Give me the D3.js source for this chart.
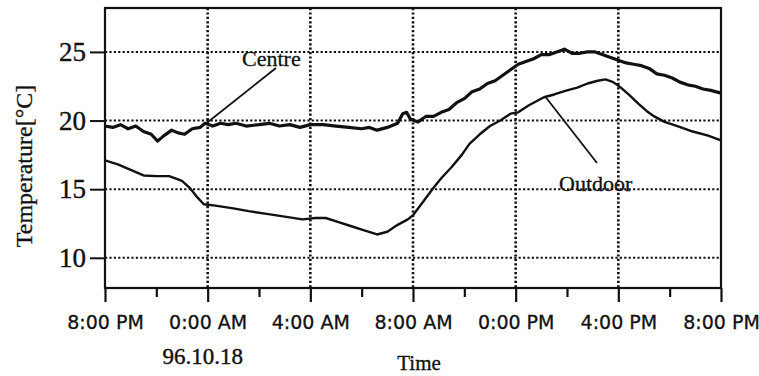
<!DOCTYPE html>
<html>
<head>
<meta charset="utf-8">
<script src="https://cdn.jsdelivr.net/npm/d3@7"></script>
<style>
  body { margin: 0; background: #fff; }
  svg { display: block; }
</style>
</head>
<body>
<svg id="chart"></svg>
<script>
// hours after 8:00 PM (96.10.17) and temperature readings
const centreHours = [0, 0.3, 0.6, 0.9, 1.2, 1.5, 1.8, 2.05, 2.3, 2.6, 2.85, 3.1, 3.4, 3.7, 3.9, 4.2, 4.5, 4.8, 5.1, 5.5, 6.0, 6.4, 6.8, 7.2, 7.6, 8.0, 8.5, 9.0, 9.5, 10.0, 10.3, 10.6, 11.0, 11.4, 11.6, 11.75, 11.9, 12.2, 12.5, 12.8, 13.1, 13.4, 13.7, 14.0, 14.3, 14.6, 14.9, 15.2, 15.5, 15.8, 16.1, 16.4, 16.7, 17.0, 17.3, 17.6, 17.9, 18.2, 18.5, 18.8, 19.1, 19.4, 19.7, 20.0, 20.3, 20.6, 20.9, 21.2, 21.5, 21.8, 22.1, 22.4, 22.7, 23.0, 23.3, 23.6, 24.0];
const centreTemps = [19.6, 19.5, 19.7, 19.4, 19.6, 19.2, 19.0, 18.5, 18.9, 19.3, 19.1, 19.0, 19.4, 19.5, 19.8, 19.6, 19.8, 19.7, 19.8, 19.6, 19.7, 19.8, 19.6, 19.7, 19.5, 19.7, 19.7, 19.6, 19.5, 19.4, 19.5, 19.3, 19.5, 19.8, 20.5, 20.6, 20.1, 19.9, 20.3, 20.3, 20.6, 20.8, 21.3, 21.6, 22.1, 22.3, 22.7, 22.9, 23.3, 23.7, 24.1, 24.3, 24.5, 24.8, 24.8, 25.0, 25.2, 24.9, 24.9, 25.0, 25.0, 24.8, 24.6, 24.4, 24.2, 24.1, 24.0, 23.8, 23.4, 23.3, 23.1, 22.8, 22.6, 22.5, 22.3, 22.2, 22.0];

const outdoorHours = [0, 0.5, 1.0, 1.5, 2.0, 2.5, 3.0, 3.3, 3.6, 3.85, 4.3, 5.0, 5.6, 6.3, 7.0, 7.7, 8.2, 8.6, 9.1, 9.6, 10.1, 10.6, 11.0, 11.4, 11.8, 12.0, 12.4, 12.8, 13.1, 13.5, 13.9, 14.2, 14.6, 15.0, 15.4, 15.8, 16.1, 16.5, 17.1, 17.5, 18.0, 18.4, 18.8, 19.2, 19.5, 19.8, 20.1, 20.4, 20.8, 21.1, 21.4, 21.8, 22.3, 22.9, 23.5, 24.0];
const outdoorTemps = [17.1, 16.8, 16.4, 16.0, 15.95, 15.95, 15.6, 15.1, 14.4, 13.9, 13.8, 13.6, 13.4, 13.2, 13.0, 12.8, 12.9, 12.9, 12.6, 12.3, 12.0, 11.7, 11.9, 12.4, 12.8, 13.1, 14.1, 15.1, 15.8, 16.6, 17.5, 18.3, 19.0, 19.6, 20.0, 20.5, 20.6, 21.1, 21.7, 21.9, 22.2, 22.4, 22.7, 22.9, 23.0, 22.8, 22.4, 21.9, 21.2, 20.7, 20.3, 19.9, 19.6, 19.2, 18.9, 18.55];

const yTicks = [10, 15, 20, 25];
const xMajorTicks = [0, 4, 8, 12, 16, 20, 24];
const xMinorTicks = [2, 6, 10, 14, 18, 22];
const xTickLabels = ["8:00 PM", "0:00 AM", "4:00 AM", "8:00 AM", "0:00 PM", "4:00 PM", "8:00 PM"];
const dateLabel = "96.10.18";

// label anchors on the curves: [hour, temp]
const centreAnchor = [3.95, 19.8];
const outdoorAnchor = [17.15, 21.75];

const width = 759, height = 376;
const x = d3.scaleLinear().domain([0, 24]).range([105, 721]);
const y = d3.scaleLinear().domain([7.8, 28.2]).range([288, 8]);

const svg = d3.select("#chart").attr("width", width).attr("height", height);
svg.append("rect").attr("width", width).attr("height", height).attr("fill", "#fff");

const serif = "'Liberation Serif', 'Times New Roman', serif";
const sans = "'DejaVu Sans', sans-serif";
const ink = "#111";

// grid
const grid = svg.append("g").attr("stroke", ink).attr("stroke-width", 2).attr("stroke-dasharray", "2.2,2.2");
grid.selectAll("line.h").data(yTicks).join("line")
  .attr("x1", x(0)).attr("x2", x(24))
  .attr("y1", d => y(d)).attr("y2", d => y(d));
grid.selectAll("line.v").data(xMajorTicks.slice(1, -1)).join("line")
  .attr("x1", d => x(d)).attr("x2", d => x(d))
  .attr("y1", y(28.2)).attr("y2", y(7.8))
  .attr("stroke-width", 2.6);

// frame
svg.append("rect")
  .attr("x", x(0)).attr("y", y(28.2))
  .attr("width", x(24) - x(0)).attr("height", y(7.8) - y(28.2))
  .attr("fill", "none").attr("stroke", ink).attr("stroke-width", 2.2);

// y axis
const yAxis = svg.append("g").attr("transform", `translate(${x(0)},0)`)
  .call(d3.axisLeft(y).tickValues(yTicks).tickSize(15).tickPadding(4).tickFormat(d3.format("d")));
yAxis.select(".domain").remove();
yAxis.selectAll("line").attr("stroke", ink).attr("stroke-width", 2);
yAxis.selectAll("text").attr("font-family", serif).attr("font-size", 27).attr("fill", ink)
  .attr("stroke", ink).attr("stroke-width", 0.4);

// x axis
const xAxis = svg.append("g").attr("transform", `translate(0,${y(7.8)})`)
  .call(d3.axisBottom(x).tickValues(xMajorTicks).tickSize(14).tickPadding(14)
    .tickFormat((d, i) => xTickLabels[i]));
xAxis.select(".domain").remove();
xAxis.selectAll("line").attr("stroke", ink).attr("stroke-width", 2.2);
xAxis.selectAll("text").attr("font-family", sans).attr("font-size", 19).attr("fill", ink)
  .attr("stroke", ink).attr("stroke-width", 0.3);

const xMinor = svg.append("g").attr("transform", `translate(0,${y(7.8)})`)
  .call(d3.axisBottom(x).tickValues(xMinorTicks).tickSize(9).tickFormat(""));
xMinor.select(".domain").remove();
xMinor.selectAll("line").attr("stroke", ink).attr("stroke-width", 2.2);

svg.append("text").attr("x", x(4) - 5).attr("y", 364)
  .attr("text-anchor", "middle").attr("font-family", serif).attr("font-size", 23).attr("fill", ink)
  .attr("stroke", ink).attr("stroke-width", 0.4)
  .text(dateLabel);

svg.append("text").attr("x", 419).attr("y", 370)
  .attr("text-anchor", "middle").attr("font-family", serif).attr("font-size", 21).attr("fill", ink)
  .attr("stroke", ink).attr("stroke-width", 0.3)
  .text("Time");

svg.append("text")
  .attr("transform", "translate(32,166) rotate(-90)")
  .attr("text-anchor", "middle").attr("font-family", serif).attr("font-size", 24).attr("fill", ink)
  .attr("stroke", ink).attr("stroke-width", 0.3)
  .text("Temperature[°C]");

// curves
const line = d3.line().x(d => x(d[0])).y(d => y(d[1]));
const centre = centreHours.map((h, i) => [h, centreTemps[i]]);
const outdoor = outdoorHours.map((h, i) => [h, outdoorTemps[i]]);

svg.append("path").datum(outdoor).attr("d", line)
  .attr("fill", "none").attr("stroke", ink).attr("stroke-width", 2.4).attr("stroke-linejoin", "round");
svg.append("path").datum(centre).attr("d", line)
  .attr("fill", "none").attr("stroke", ink).attr("stroke-width", 3.2).attr("stroke-linejoin", "round");

// annotations
svg.append("line")
  .attr("x1", 276).attr("y1", 68).attr("x2", x(centreAnchor[0])).attr("y2", y(centreAnchor[1]))
  .attr("stroke", ink).attr("stroke-width", 1.8);
svg.append("text").attr("x", 242).attr("y", 66)
  .attr("font-family", serif).attr("font-size", 22).attr("fill", ink)
  .attr("stroke", ink).attr("stroke-width", 0.3)
  .text("Centre");

svg.append("line")
  .attr("x1", x(outdoorAnchor[0])).attr("y1", y(outdoorAnchor[1])).attr("x2", 597).attr("y2", 163)
  .attr("stroke", ink).attr("stroke-width", 1.8);
svg.append("text").attr("x", 559).attr("y", 191)
  .attr("font-family", serif).attr("font-size", 22).attr("fill", ink)
  .attr("stroke", ink).attr("stroke-width", 0.3)
  .text("Outdoor");
</script>
</body>
</html>
